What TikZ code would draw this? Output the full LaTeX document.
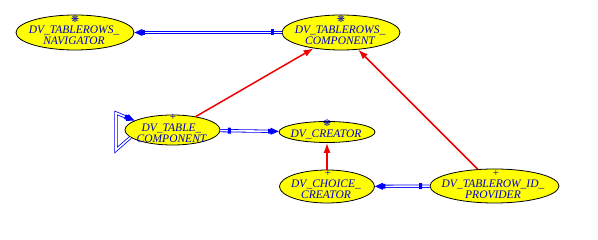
\documentclass[tikz,border=0pt]{standalone}
\usepackage{fontspec}
\setmainfont{Liberation Serif}
\newfontfamily\symfont{DejaVu Sans}
\usetikzlibrary{shapes.geometric,arrows.meta,decorations.markings}
\definecolor{nodefill}{RGB}{255,255,0}
\definecolor{txtblue}{RGB}{0,0,200}
\definecolor{assocblue}{RGB}{0,0,255}
\definecolor{depred}{RGB}{240,0,0}
\newcommand{\assochead}{\fill[assocblue] (0pt,0pt) -- (-8pt,3.6pt) -- (-8pt,-3.6pt) -- cycle;
                        \fill[assocblue] (-10.5pt,-2.4pt) rectangle (-7pt,2.4pt);}
\begin{document}
\begin{tikzpicture}[x=1pt,y=-1pt,
  cls/.style={ellipse, draw=black, line width=0.8pt, fill=nodefill, inner sep=0pt},
  lbl/.style={align=center, text=txtblue, font=\itshape\fontsize{11.5}{11}\selectfont, inner sep=0pt},
  sym/.style={text=txtblue, font=\symfont\fontsize{9.5}{9.5}\selectfont, inner sep=0pt},
  plus/.style={text=txtblue, font=\fontsize{11}{11}\selectfont, inner sep=0pt},
  dep/.style={draw=depred, line width=1.5pt, -{Latex[length=10pt,width=7pt]}},
  assocbase/.style={draw=assocblue, line width=0.8pt, double=white, double distance=1.6pt, shorten >=8pt,
    postaction={decorate}},
  assoc/.style={assocbase, decoration={markings,
      mark=at position 1 with {\assochead}}},
  assoctick/.style={assocbase, decoration={markings,
      mark=at position 9pt with {\fill[assocblue] (-1.6pt,-3pt) rectangle (1.6pt,3pt);},
      mark=at position 1 with {\assochead}}}
]
\useasboundingbox (0,0) rectangle (598,240);
% nodes
\node[cls, minimum width=118pt, minimum height=35pt] (nav) at (75,32.5) {};
\node[lbl] (navt) at (74,35) {DV\_TABLEROWS\_\\NAVIGATOR};
\node[sym] (navs) at (75,19) {❋};

\node[cls, minimum width=118pt, minimum height=35pt] (comp) at (341,32.5) {};
\node[lbl] (compt) at (340,35) {DV\_TABLEROWS\_\\COMPONENT};
\node[sym] (comps) at (341,19) {❋};

\node[cls, minimum width=95pt, minimum height=30pt] (tc) at (172.5,130) {};
\node[lbl] (tct) at (171.5,133) {DV\_TABLE\_\\COMPONENT};
\node[plus] (tcs) at (173,117) {+};

\node[cls, minimum width=96pt, minimum height=21pt] (cr) at (327,132) {};
\node[lbl] (crt) at (326,134) {DV\_CREATOR};
\node[sym] (crs) at (327,123.5) {❋};

\node[cls, minimum width=95pt, minimum height=33pt] (ch) at (327,186.5) {};
\node[lbl] (cht) at (326,189) {DV\_CHOICE\_\\CREATOR};
\node[plus] (chs) at (328,173) {+};

\node[cls, minimum width=129pt, minimum height=34pt] (prov) at (494.5,186) {};
\node[lbl] (provt) at (493,189) {DV\_TABLEROW\_ID\_\\PROVIDER};
\node[plus] (provs) at (496,173) {+};

% loop corners
\coordinate (lpb) at (116,150);
\coordinate (lpt) at (116,113);

% dependencies
\draw[dep] (tc) -- (comp);
\draw[dep] (prov) -- (comp);
\draw[dep] (ch) -- (cr);

% associations
\draw[assoctick] (comp) -- (nav);
\draw[assoctick] (tc) -- (cr);
\draw[assoctick] (prov) -- (ch);
\draw[assoc] (tc.190) -- (lpb) -- (lpt) -- (tc.166);
\end{tikzpicture}
\end{document}
